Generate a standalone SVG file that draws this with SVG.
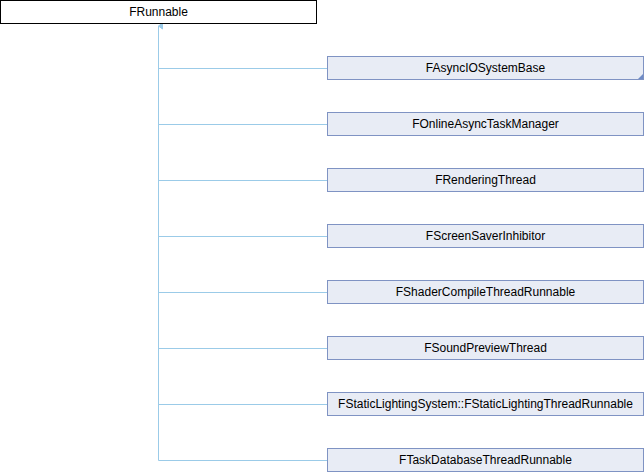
<svg xmlns="http://www.w3.org/2000/svg" width="644" height="472" viewBox="0 0 644 472">
<style>
.n rect{fill:#e8ecf5;stroke:#7f93c3;stroke-width:1}
.root rect{fill:#ffffff;stroke:#000000;stroke-width:1}
text{font-family:"Liberation Sans",Arial,sans-serif;font-size:12px;fill:#000;text-anchor:middle}
.e{stroke:#9bcbe8;stroke-width:1;fill:none}
</style>
<defs>
<marker id="arr" markerWidth="8" markerHeight="8" refX="4" refY="1" orient="auto" markerUnits="userSpaceOnUse">
<path d="M1,5 L4,1 L7,5 Z" fill="#9bcbe8" stroke="#9bcbe8"/>
</marker>
</defs>
<g id="connectors">
<path class="e" d="M158.5,460.5 V26" marker-end="url(#arr)"/>
<path class="e" d="M158.5,68.5 H327.5"/>
<path class="e" d="M158.5,124.5 H327.5"/>
<path class="e" d="M158.5,180.5 H327.5"/>
<path class="e" d="M158.5,236.5 H327.5"/>
<path class="e" d="M158.5,292.5 H327.5"/>
<path class="e" d="M158.5,348.5 H327.5"/>
<path class="e" d="M158.5,404.5 H327.5"/>
<path class="e" d="M158.5,460.5 H327.5"/>
</g>
<g id="FRunnable" class="root"><rect x="0.5" y="0.5" width="316" height="23"/><text x="158.5" y="16">FRunnable</text></g>
<g id="FAsyncIOSystemBase" class="n"><rect x="327.5" y="56.5" width="316" height="23"/><text x="485.5" y="72">FAsyncIOSystemBase</text><path d="M643,74 L643,79 L638,79 Z" fill="#6f8bc5"/></g>
<g id="FOnlineAsyncTaskManager" class="n"><rect x="327.5" y="112.5" width="316" height="23"/><text x="485.5" y="128">FOnlineAsyncTaskManager</text></g>
<g id="FRenderingThread" class="n"><rect x="327.5" y="168.5" width="316" height="23"/><text x="485.5" y="184">FRenderingThread</text></g>
<g id="FScreenSaverInhibitor" class="n"><rect x="327.5" y="224.5" width="316" height="23"/><text x="485.5" y="240">FScreenSaverInhibitor</text></g>
<g id="FShaderCompileThreadRunnable" class="n"><rect x="327.5" y="280.5" width="316" height="23"/><text x="485.5" y="296">FShaderCompileThreadRunnable</text></g>
<g id="FSoundPreviewThread" class="n"><rect x="327.5" y="336.5" width="316" height="23"/><text x="485.5" y="352">FSoundPreviewThread</text></g>
<g id="FStaticLightingThreadRunnable" class="n"><rect x="327.5" y="392.5" width="316" height="23"/><text x="485.5" y="408">FStaticLightingSystem::FStaticLightingThreadRunnable</text></g>
<g id="FTaskDatabaseThreadRunnable" class="n"><rect x="327.5" y="448.5" width="316" height="23"/><text x="485.5" y="464">FTaskDatabaseThreadRunnable</text></g>
</svg>
